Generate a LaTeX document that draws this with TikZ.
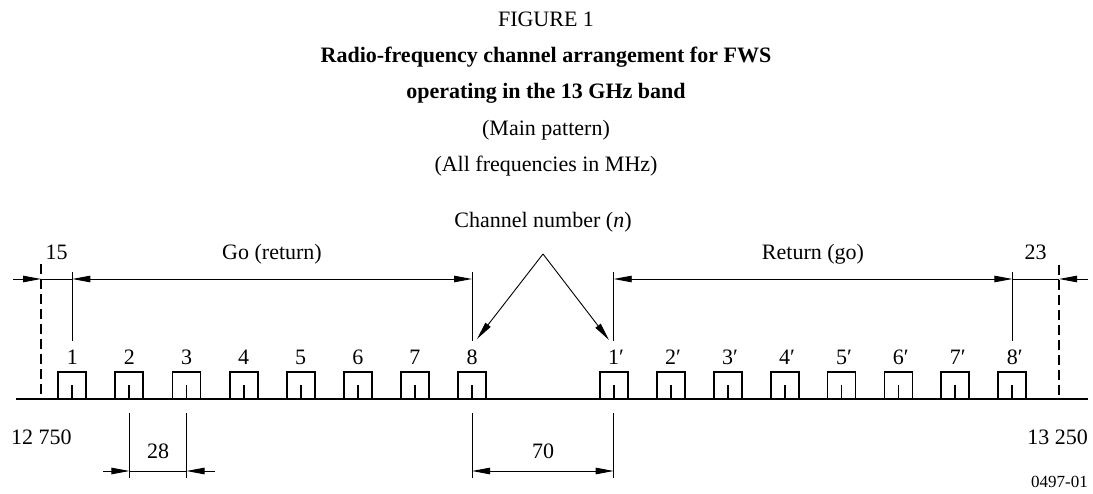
\documentclass[tikz,border=0pt]{standalone}
\usepackage{fontspec}
\setmainfont{Liberation Serif}
\usetikzlibrary{arrows.meta}
\begin{document}
\begin{tikzpicture}[x=1pt,y=-1pt,
  >={Triangle[length=18pt,width=6.5pt]},
  dim/.style={line width=0.9pt},
  axisline/.style={line width=1.9pt},
  edgeline/.style={line width=1.9pt, dash pattern=on 10pt off 5pt},
  lbl/.style={anchor=base, inner sep=0pt, font=\fontsize{22}{26}\selectfont},
  boldlbl/.style={lbl, font=\fontsize{22}{26}\selectfont\bfseries},
]
\useasboundingbox (0,0) rectangle (1093,494);

% caption block
\node[lbl] (fig) at (546,27) {FIGURE 1};
\node[boldlbl] (title1) at (546,63) {Radio-frequency channel arrangement for FWS};
\node[boldlbl] (title2) at (546,98.5) {operating in the 13 GHz band};
\node[lbl] (sub1) at (546,136) {(Main pattern)};
\node[lbl] (sub2) at (546,172) {(All frequencies in MHz)};

% reference levels
\coordinate (extTop) at (0,272);
\coordinate (extBot) at (0,341);
\coordinate (dimY) at (0,279);
\coordinate (lowTop) at (0,413);
\coordinate (lowBot) at (0,478);
\coordinate (lowDim) at (0,471);

% frequency axis
\coordinate (axL) at (16,399);
\coordinate (axR) at (1088,399);
\draw[axisline] (axL) -- (axR);

% channels: go half (c) and return half (p)
\foreach \i in {1,...,8} {
  \pgfmathsetmacro\cx{72.3+57.1*(\i-1)}
  \pgfmathsetmacro\px{613.7+56.95*(\i-1)}
  \coordinate (c\i) at (\cx,399);
  \coordinate (p\i) at (\px,399);
  \node[lbl] (nc\i) at (\cx,365) {\i};
  \node[lbl] (np\i) at (\px,365) {\i\rlap{′}};
}
\foreach \s in {c,p} {
  \foreach \i in {1,...,8} {
    \draw[axisline, line join=miter] ([xshift=-14pt]\s\i) -- ++(0,-27.3) -- ++(28,0) -- ++(0,27.3);
    \draw[axisline] (\s\i) -- ++(0,-14);
  }
}

% band edges
\coordinate (bl) at (41,399);
\coordinate (blt) at (41,264);
\coordinate (br) at (1059,399);
\coordinate (brt) at (1059,265);
\draw[edgeline] (blt) -- (bl);
\draw[edgeline] (brt) -- (br);

% extension lines for the upper dimensions
\foreach \n in {c1,c8,p1,p8} {
  \draw[dim] (\n |- extTop) -- (\n |- extBot);
}

% upper dimension line
\coordinate (dimL) at (13,279);
\coordinate (dimR) at (1088,279);
\draw[dim,->] (dimL) -- (blt |- dimY);
\draw[dim] (blt |- dimY) -- (c1 |- dimY);
\draw[dim,<->] (c1 |- dimY) -- (c8 |- dimY);
\draw[dim,<->] (p1 |- dimY) -- (p8 |- dimY);
\draw[dim] (p8 |- dimY) -- (brt |- dimY);
\draw[dim,<-] (brt |- dimY) -- (dimR);

\node[lbl] (l15) at (56.5,260) {15};
\node[lbl] (l23) at (1035.5,260) {23};
\node[lbl] (go) at (272,260) {Go (return)};
\node[lbl] (ret) at (813,260) {Return (go)};

% channel number pointer
\node[lbl] (chn) at (543,228) {Channel number (\textit{n})};
\coordinate (apex) at (543,254);
\coordinate (t8) at (477,339);
\coordinate (t1) at (609,340);
\draw[dim,->] (apex) -- (t8);
\draw[dim,->] (apex) -- (t1);

% lower dimensions: 28 and 70
\foreach \n in {c2,c3,c8,p1} {
  \draw[dim] (\n |- lowTop) -- (\n |- lowBot);
}
\coordinate (a28L) at (103,471);
\coordinate (a28R) at (215,471);
\draw[dim,->] (a28L) -- (c2 |- lowDim);
\draw[dim] (c2 |- lowDim) -- (c3 |- lowDim);
\draw[dim,<-] (c3 |- lowDim) -- (a28R);
\draw[dim,<->] (c8 |- lowDim) -- (p1 |- lowDim);
\node[lbl] (l28) at (158,458) {28};
\node[lbl] (l70) at (543,458) {70};

% band limits and figure reference
\node[lbl, anchor=base west] (fl) at (11,444) {12 750};
\node[lbl, anchor=base east] (fr) at (1088,444) {13 250};
\node[lbl, anchor=base east, font=\fontsize{17}{20}\selectfont] (ref) at (1088,487) {0497-01};
\end{tikzpicture}
\end{document}
